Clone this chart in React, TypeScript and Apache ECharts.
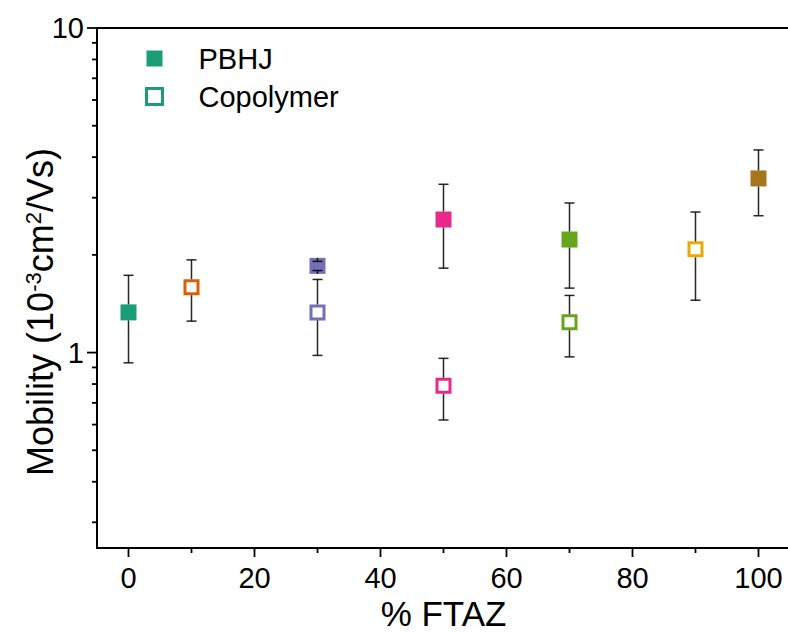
import React, { useEffect, useRef } from 'react';
import * as echarts from 'echarts';

// ---- data ----
const xPBHJ = [0, 30, 50, 70, 100];
const yPBHJ = [1.33, 1.85, 2.57, 2.23, 3.44];
const lowPBHJ = [0.93, 1.79, 1.82, 1.58, 2.64];
const highPBHJ = [1.73, 1.91, 3.3, 2.89, 4.21];
const colorPBHJ = ['#1b9e77', '#7570b3', '#e7298a', '#66a61e', '#a6761d'];

const xCopolymer = [10, 30, 50, 70, 90];
const yCopolymer = [1.59, 1.33, 0.79, 1.24, 2.08];
const lowCopolymer = [1.25, 0.98, 0.62, 0.97, 1.45];
const highCopolymer = [1.93, 1.68, 0.96, 1.5, 2.71];
const colorCopolymer = ['#d95f02', '#7570b3', '#e7298a', '#66a61e', '#e6ab02'];

const xRange = [-5, 105];
const yRange = [0.25, 10];
const xMajorTicks = [0, 20, 40, 60, 80, 100];
const xMinorTicks = [10, 30, 50, 70, 90];
const yMajorTicks = [1, 10];
const yMinorTicks = [0.3, 0.4, 0.5, 0.6, 0.7, 0.8, 0.9, 2, 3, 4, 5, 6, 7, 8, 9];

const FONT = "'Liberation Sans', Arial, sans-serif";

export default function App() {
  const ref = useRef<HTMLDivElement>(null);
  useEffect(() => {
    if (!ref.current) return;
    const chart = echarts.init(ref.current, null, { renderer: 'svg' });

    const errStyle = { stroke: 'rgba(0,0,0,0.85)', lineWidth: 1.5 };
    const errorRender = (half: number) => (params: any, api: any) => {
      const x = api.value(0);
      const y = api.value(1);
      const c = api.coord([x, y]);
      const cl = api.coord([x, api.value(2)]);
      const ch = api.coord([x, api.value(3)]);
      const w = 5;
      return {
        type: 'group',
        children: [
          { type: 'line', shape: { x1: c[0], y1: c[1] - half, x2: c[0], y2: ch[1] }, style: errStyle },
          { type: 'line', shape: { x1: c[0] - w, y1: ch[1], x2: c[0] + w, y2: ch[1] }, style: errStyle },
          { type: 'line', shape: { x1: c[0], y1: c[1] + half, x2: c[0], y2: cl[1] }, style: errStyle },
          { type: 'line', shape: { x1: c[0] - w, y1: cl[1], x2: c[0] + w, y2: cl[1] }, style: errStyle },
        ],
      };
    };

    const tickStyle = { stroke: '#000', lineWidth: 1.8 };
    const yTickRender = (params: any, api: any) => {
      const p = api.coord([api.value(0), api.value(1)]);
      const len = api.value(2);
      return { type: 'line', shape: { x1: p[0] - len, y1: p[1], x2: p[0], y2: p[1] }, style: tickStyle };
    };
    const xTickRender = (params: any, api: any) => {
      const p = api.coord([api.value(0), api.value(1)]);
      const len = api.value(2);
      return { type: 'line', shape: { x1: p[0], y1: p[1], x2: p[0], y2: p[1] + len }, style: tickStyle };
    };

    const option: any = {
      animation: false,
      textStyle: { fontFamily: FONT },
      grid: { left: 97, right: -2, top: 28, bottom: 85, outerBoundsMode: 'none', containLabel: false },
      legend: {
        orient: 'vertical',
        left: 145,
        top: 44,
        padding: 0,
        itemWidth: 16,
        itemHeight: 16,
        itemGap: 9,
        textStyle: { fontSize: 29, lineHeight: 29, color: '#000', fontFamily: FONT, padding: [0, 0, 0, 31] },
        data: [
          { name: 'PBHJ', icon: 'rect' },
          { name: 'Copolymer', icon: 'rect', itemStyle: { color: '#fff', borderColor: '#1b9e77', borderWidth: 3 } },
        ],
      },
      xAxis: [
        {
          type: 'value',
          min: xRange[0],
          max: xRange[1],
          axisLine: { show: true, onZero: false, lineStyle: { color: '#000', width: 2 } },
          axisTick: { show: false },
          splitLine: { show: false },
          axisLabel: {
            fontSize: 29,
            color: '#000',
            margin: 15,
            fontFamily: FONT,
            formatter: (v: number) => (v >= 0 && v <= 100 && v % 20 === 0 ? String(v) : ''),
          },
          name: '% FTAZ',
          nameLocation: 'middle',
          nameGap: 50,
          nameMoveOverlap: false,
          nameTextStyle: { fontSize: 35, lineHeight: 30, color: '#000', fontFamily: FONT },
        },
        {
          type: 'value',
          position: 'top',
          min: xRange[0],
          max: xRange[1],
          axisLine: { show: true, onZero: false, lineStyle: { color: '#000', width: 2 } },
          axisTick: { show: false },
          axisLabel: { show: false },
          splitLine: { show: false },
        },
      ],
      yAxis: {
        type: 'log',
        logBase: 10,
        min: yRange[0],
        max: yRange[1],
        splitNumber: 2,
        axisLine: { show: true, onZero: false, lineStyle: { color: '#000', width: 2 } },
        axisTick: { show: false },
        minorTick: { show: false },
        splitLine: { show: false },
        axisLabel: {
          fontSize: 29,
          color: '#000',
          margin: 13,
          fontFamily: FONT,
          formatter: (v: number) => {
            const l = Math.log10(v);
            return v >= 1 && Math.abs(l - Math.round(l)) < 1e-6 ? String(Math.round(v)) : '';
          },
        },
        name: '{a|Mobility (10}{s|-3}{a|cm}{s|2}{a|/Vs)}',
        nameLocation: 'middle',
        nameRotate: 90,
        nameGap: 39,
        nameMoveOverlap: false,
        nameTextStyle: {
          color: '#000',
          padding: [0, 48, 0, 0],
          rich: {
            a: { fontSize: 36, fontFamily: FONT, color: '#000', lineHeight: 36 },
            s: { fontSize: 22, fontFamily: FONT, color: '#000', verticalAlign: 'top', lineHeight: 36 },
          },
        },
      },
      series: [
        {
          name: 'PBHJ',
          type: 'scatter',
          symbol: 'rect',
          symbolSize: 16,
          z: 2,
          itemStyle: { color: '#1b9e77', opacity: 1 },
          data: xPBHJ.map((x, i) => ({ value: [x, yPBHJ[i]], itemStyle: { color: colorPBHJ[i] } })),
        },
        {
          name: 'Copolymer',
          type: 'scatter',
          symbol: 'rect',
          symbolSize: 13,
          z: 2,
          itemStyle: { color: '#fff', borderColor: '#1b9e77', borderWidth: 3, opacity: 1 },
          data: xCopolymer.map((x, i) => ({
            value: [x, yCopolymer[i]],
            itemStyle: { color: '#fff', borderColor: colorCopolymer[i], borderWidth: 3 },
          })),
        },
        {
          type: 'custom',
          z: 3,
          silent: true,
          clip: false,
          renderItem: errorRender(8),
          encode: { x: 0, y: 1 },
          data: xPBHJ.map((x, i) => [x, yPBHJ[i], lowPBHJ[i], highPBHJ[i]]),
        },
        {
          type: 'custom',
          z: 3,
          silent: true,
          clip: false,
          renderItem: errorRender(8),
          encode: { x: 0, y: 1 },
          data: xCopolymer.map((x, i) => [x, yCopolymer[i], lowCopolymer[i], highCopolymer[i]]),
        },
        {
          type: 'custom',
          silent: true,
          clip: false,
          renderItem: yTickRender,
          encode: { x: 0, y: 1 },
          data: [
            ...yMajorTicks.map((v) => [xRange[0], v, 10]),
            ...yMinorTicks.map((v) => [xRange[0], v, 5]),
          ],
        },
        {
          type: 'custom',
          silent: true,
          clip: false,
          renderItem: xTickRender,
          encode: { x: 0, y: 1 },
          data: [
            ...xMajorTicks.map((v) => [v, yRange[0], 9]),
            ...xMinorTicks.map((v) => [v, yRange[0], 5]),
          ],
        },
      ],
    };
    chart.setOption(option);
    return () => chart.dispose();
  }, []);
  return <div ref={ref} style={{ position: 'absolute', left: 0, top: 0, width: 788, height: 633 }} />;
}
